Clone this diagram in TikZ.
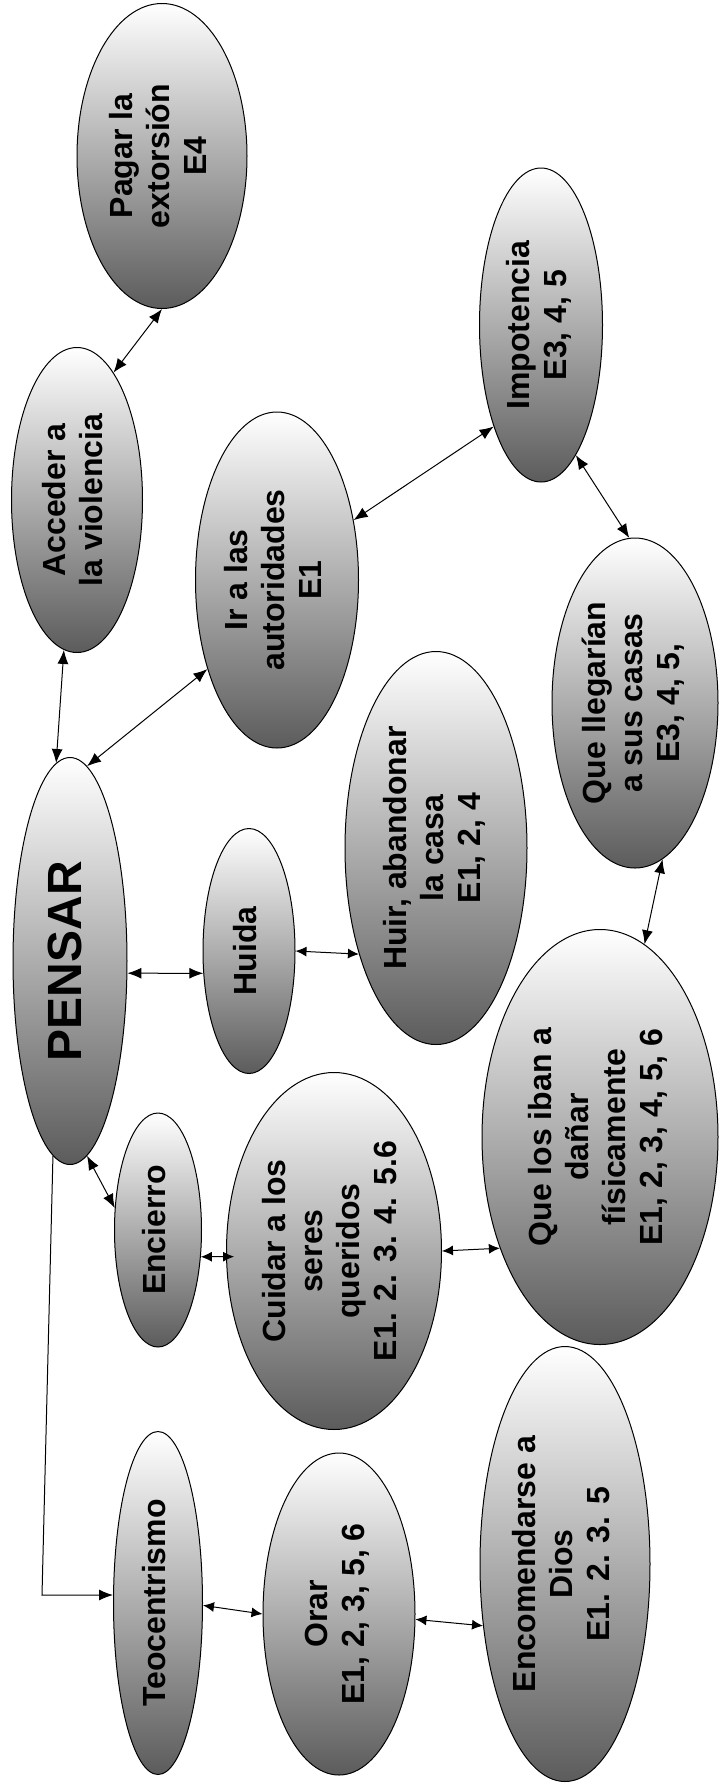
\documentclass[tikz,border=0pt]{standalone}
\usepackage{fontspec}
\setmainfont{Liberation Sans}
\usepackage{graphicx}
\usetikzlibrary{shapes.geometric,arrows.meta}
\newcommand{\lbl}[1]{\rotatebox{90}{\begin{tabular}{@{}c@{}}#1\end{tabular}}}
\begin{document}
\begin{tikzpicture}[x=1pt,y=-1pt,
  bub/.style={ellipse, draw=black, line width=1pt, top color=white, bottom color=black!64,
    inner sep=0pt, font=\bfseries\fontsize{32}{37}\selectfont},
  arr/.style={line width=1pt, {Latex[length=14pt,width=11pt]}-{Latex[length=14pt,width=11pt]}},
  shortarr/.style={line width=1pt, {Latex[length=11pt,width=10pt]}-{Latex[length=11pt,width=10pt]}},
  onearr/.style={line width=1pt, -{Latex[length=14pt,width=11pt]}}]
\fill[white] (0,0) rectangle (720,1789);
\useasboundingbox (0,0) rectangle (720,1789);

\node[bub, minimum width=170pt, minimum height=305pt] (pagar) at (162,156) {\lbl{Pagar la\\extorsión\\E4}};
\node[bub, minimum width=131pt, minimum height=305pt] (acceder) at (77,500) {\lbl{Acceder a\\la violencia}};
\node[bub, minimum width=123pt, minimum height=314pt] (impot) at (541,325) {\lbl{Impotencia\\E3, 4, 5}};
\node[bub, minimum width=163pt, minimum height=336pt] (ir) at (277,580) {\lbl{Ir a las\\autoridades\\E1}};
\node[bub, minimum width=114pt, minimum height=407pt, font=\bfseries\fontsize{48}{55}\selectfont] (pensar) at (70,961) {\lbl{PENSAR}};
\node[bub, minimum width=92pt, minimum height=245pt] (huida) at (249,951) {\lbl{Huida}};
\node[bub, minimum width=182pt, minimum height=393pt] (huir) at (436,848) {\lbl{Huir, abandonar\\la casa\\E1, 2, 4}};
\node[bub, minimum width=166pt, minimum height=330pt] (llegar) at (635,703) {\lbl{Que llegarían\\a sus casas\\E3, 4, 5,}};
\node[bub, minimum width=236pt, minimum height=415pt] (danar) at (600,1137) {\lbl{Que los iban a\\dañar\\físicamente\\E1, 2, 3, 4, 5, 6}};
\node[bub, minimum width=87pt, minimum height=234pt] (encierro) at (158,1230) {\lbl{Encierro}};
\node[bub, minimum width=215pt, minimum height=357pt] (cuidar) at (334,1251) {\lbl{Cuidar a los\\seres\\queridos\\E1. 2. 3. 4. 5.6}};
\node[bub, minimum width=89pt, minimum height=343pt] (teo) at (158,1603) {\lbl{Teocentrismo}};
\node[bub, minimum width=152pt, minimum height=322pt] (orar) at (339,1614) {\lbl{Orar\\E1, 2, 3, 5, 6}};
\node[bub, minimum width=170pt, minimum height=435pt] (encom) at (565,1564) {\lbl{Encomendarse a\\Dios\\E1. 2. 3. 5}};

\draw[arr] (pagar.south) -- (acceder.74);
\draw[arr] (acceder.-95) -- (pensar.94);
\draw[arr] (pensar.85) -- (ir.-128);
\draw[arr] (ir.38) -- (impot.-115);
\draw[arr] (impot.-75) -- (llegar.92);
\draw[arr] (llegar.-80) -- (danar.77);
\draw[arr] (pensar.-12) -- (huida.206);
\draw[shortarr] (huida.east) -- (huir.234);
\draw[arr] (pensar.-85) -- (encierro.153);
\draw[shortarr, shorten >=-8pt] (encierro.-32) -- (cuidar.183);
\draw[shortarr] (cuidar.east) -- (danar.228);
\draw[shortarr] (teo.-3) -- (orar.west);
\draw[shortarr] (orar.-4) -- (encom.217);
\coordinate (corner) at (42,1595);
\draw[onearr] (pensar.265) -- (corner) -- (corner -| teo.west);
\end{tikzpicture}
\end{document}
